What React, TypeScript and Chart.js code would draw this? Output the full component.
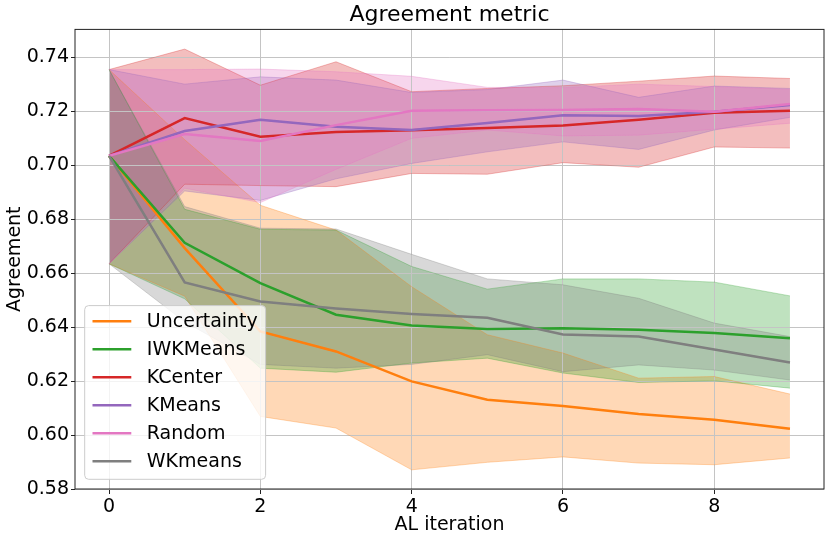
import { useEffect, useRef } from 'react';
import Chart from 'chart.js/auto';

const iterations = [0, 1, 2, 3, 4, 5, 6, 7, 8, 9];
const methods = ['Uncertainty', 'IWKMeans', 'KCenter', 'KMeans', 'Random', 'WKmeans'];
const colors = ['#ff7f0e', '#2ca02c', '#d62728', '#9467bd', '#e377c2', '#7f7f7f'];

// mean agreement per AL iteration
const uncertaintyMean = [0.7035, 0.6693, 0.6384, 0.6310, 0.6199, 0.6131, 0.6108, 0.6078, 0.6057, 0.6023];
const iwkmeansMean = [0.7035, 0.6713, 0.6563, 0.6446, 0.6406, 0.6393, 0.6396, 0.6390, 0.6378, 0.6359];
const kcenterMean = [0.7035, 0.7175, 0.7106, 0.7124, 0.7130, 0.7138, 0.7148, 0.7169, 0.7195, 0.7202];
const kmeansMean = [0.7035, 0.7127, 0.7169, 0.7143, 0.7131, 0.7157, 0.7186, 0.7183, 0.7199, 0.7224];
const randomMean = [0.7035, 0.7116, 0.7090, 0.7149, 0.7202, 0.7204, 0.7205, 0.7209, 0.7199, 0.7227];
const wkmeansMean = [0.7035, 0.6566, 0.6495, 0.6469, 0.6449, 0.6435, 0.6373, 0.6365, 0.6317, 0.6269];

// upper / lower edge of the shaded band
const uncertaintyHigh = [0.7355, 0.7095, 0.6852, 0.6760, 0.6550, 0.6372, 0.6304, 0.6211, 0.6217, 0.6152];
const uncertaintyLow = [0.6635, 0.6515, 0.6069, 0.6026, 0.5871, 0.5899, 0.5919, 0.5896, 0.5890, 0.5915];
const iwkmeansHigh = [0.7355, 0.6837, 0.6763, 0.6760, 0.6625, 0.6541, 0.6579, 0.6579, 0.6567, 0.6516];
const iwkmeansLow = [0.6635, 0.6505, 0.6248, 0.6233, 0.6267, 0.6285, 0.6230, 0.6195, 0.6201, 0.6174];
const kcenterHigh = [0.7355, 0.7431, 0.7297, 0.7384, 0.7273, 0.7285, 0.7295, 0.7312, 0.7331, 0.7322];
const kcenterLow = [0.6635, 0.6930, 0.6925, 0.6921, 0.6970, 0.6967, 0.7010, 0.6993, 0.7068, 0.7064];
const kmeansHigh = [0.7355, 0.7301, 0.7328, 0.7316, 0.7270, 0.7281, 0.7316, 0.7252, 0.7294, 0.7285];
const kmeansLow = [0.6635, 0.6905, 0.6870, 0.6950, 0.7007, 0.7050, 0.7087, 0.7059, 0.7131, 0.7178];
const randomHigh = [0.7355, 0.7355, 0.7357, 0.7347, 0.7330, 0.7289, 0.7288, 0.7301, 0.7292, 0.7282];
const randomLow = [0.6635, 0.6915, 0.6862, 0.6985, 0.7100, 0.7131, 0.7109, 0.7112, 0.7134, 0.7156];
const wkmeansHigh = [0.7355, 0.6847, 0.6767, 0.6764, 0.6670, 0.6579, 0.6557, 0.6507, 0.6415, 0.6365];
const wkmeansLow = [0.6635, 0.6420, 0.6262, 0.6248, 0.6262, 0.6298, 0.6235, 0.6260, 0.6241, 0.6204];

const xTicks = [0, 2, 4, 6, 8];
const yTicks = [0.58, 0.6, 0.62, 0.64, 0.66, 0.68, 0.7, 0.72, 0.74];

const means = [uncertaintyMean, iwkmeansMean, kcenterMean, kmeansMean, randomMean, wkmeansMean];
const highs = [uncertaintyHigh, iwkmeansHigh, kcenterHigh, kmeansHigh, randomHigh, wkmeansHigh];
const lows = [uncertaintyLow, iwkmeansLow, kcenterLow, kmeansLow, randomLow, wkmeansLow];

const FONT = 'DejaVu Sans';
const TITLE = 'Agreement metric';

function rgba(hex: string, a: number) {
  const n = parseInt(hex.slice(1), 16);
  return `rgba(${(n >> 16) & 255}, ${(n >> 8) & 255}, ${n & 255}, ${a})`;
}

const toPoints = (ys: number[]) => iterations.map((x, i) => ({ x, y: ys[i] }));

// redraw grid on top of the shaded bands, below the lines (like matplotlib)
const gridOverFill = {
  id: 'gridOverFill',
  beforeDatasetsDraw(chart: any) {
    chart.scales.x.drawGrid(chart.chartArea);
    chart.scales.y.drawGrid(chart.chartArea);
  },
};

// axes frame, title centred over the axes, legend in the lower left corner
const frameAndLegend = {
  id: 'frameAndLegend',
  afterDraw(chart: any) {
    const { ctx, chartArea } = chart;
    ctx.save();
    ctx.strokeStyle = '#222';
    ctx.lineWidth = 1;
    ctx.strokeRect(chartArea.left, chartArea.top, chartArea.right - chartArea.left, chartArea.bottom - chartArea.top);

    ctx.fillStyle = '#000';
    ctx.font = `22px "${FONT}"`;
    ctx.textAlign = 'center';
    ctx.textBaseline = 'middle';
    ctx.fillText(TITLE, (chartArea.left + chartArea.right) / 2, 15.5);

    ctx.font = `19px "${FONT}"`;
    const maxText = Math.max(...methods.map((m) => ctx.measureText(m).width));
    const left = chartArea.left + 9.7;
    const bottom = chartArea.bottom - 9.7;
    const width = 7.8 + 38.8 + 15.5 + maxText + 7.8;
    const height = 173.7;
    const top = bottom - height;
    ctx.beginPath();
    ctx.roundRect(left, top, width, height, 4);
    ctx.fillStyle = 'rgba(255,255,255,0.8)';
    ctx.fill();
    ctx.strokeStyle = '#cccccc';
    ctx.stroke();

    methods.forEach((m, i) => {
      const cy = top + 15.7 + i * 28;
      const hx = left + 7.8;
      ctx.beginPath();
      ctx.moveTo(hx, cy);
      ctx.lineTo(hx + 38.8, cy);
      ctx.strokeStyle = colors[i];
      ctx.lineWidth = 2.5;
      ctx.stroke();
      ctx.fillStyle = '#000';
      ctx.textBaseline = 'middle';
      ctx.textAlign = 'left';
      ctx.fillText(m, hx + 38.8 + 15.5, cy + 1);
    });
    ctx.restore();
  },
};

export default function App() {
  const chartRef = useRef<HTMLCanvasElement | null>(null);
  const chartInstance = useRef<Chart | null>(null);

  useEffect(() => {
    document.body.style.margin = '0';
    if (!chartRef.current) return;
    if (chartInstance.current) chartInstance.current.destroy();
    const ctx = chartRef.current.getContext('2d');
    if (!ctx) return;

    const bandSets = methods.flatMap((name, k) => [
      {
        label: name + ' high',
        data: toPoints(highs[k]),
        fill: '+1',
        backgroundColor: rgba(colors[k], 0.3),
        borderColor: rgba(colors[k], 0.3),
        borderWidth: 1,
        pointRadius: 0,
        order: 100 - k,
      },
      {
        label: name + ' low',
        data: toPoints(lows[k]),
        fill: false,
        borderColor: rgba(colors[k], 0.3),
        borderWidth: 1,
        pointRadius: 0,
        order: 100 - k,
      },
    ]);
    const lineSets = methods.map((name, k) => ({
      label: name,
      data: toPoints(means[k]),
      fill: false,
      borderColor: colors[k],
      borderWidth: 2.5,
      pointRadius: 0,
      order: 50 - k,
    }));

    const tickFont = { family: FONT, size: 19 };

    chartInstance.current = new Chart(ctx, {
      type: 'line',
      data: { datasets: [...bandSets, ...lineSets] as any },
      options: {
        responsive: false,
        animation: false,
        layout: { padding: { left: 0, right: 6, top: 29.4, bottom: 0 } },
        scales: {
          x: {
            type: 'linear',
            min: -0.45,
            max: 9.45,
            afterBuildTicks: (scale: any) => {
              scale.ticks = xTicks.map((v) => ({ value: v }));
            },
            afterFit: (scale: any) => {
              scale.height = 54;
            },
            ticks: { font: tickFont, color: '#000', padding: 2, maxRotation: 0, callback: (v: any) => String(v) },
            grid: { color: '#c4c4c4', lineWidth: 1, tickColor: '#222', tickLength: 5 },
            border: { display: false },
            title: { display: true, text: 'AL iteration', color: '#000', font: { family: FONT, size: 19 }, padding: { top: 0, bottom: 7 } },
          },
          y: {
            type: 'linear',
            min: 0.58,
            max: 0.7504,
            afterBuildTicks: (scale: any) => {
              scale.ticks = yTicks.map((v) => ({ value: v }));
            },
            afterFit: (scale: any) => {
              scale.width = 75;
            },
            ticks: { font: tickFont, color: '#000', padding: 2, callback: (v: any) => Number(v).toFixed(2) },
            grid: { color: '#c4c4c4', lineWidth: 1, tickColor: '#222', tickLength: 4 },
            border: { display: false },
            title: { display: true, text: 'Agreement', color: '#000', font: { family: FONT, size: 19 }, padding: { top: 4, bottom: 0 } },
          },
        },
        plugins: {
          legend: { display: false },
          tooltip: { enabled: false },
          filler: { drawTime: 'beforeDatasetsDraw' },
          title: { display: false },
        },
      } as any,
      plugins: [gridOverFill, frameAndLegend],
    });

    return () => {
      if (chartInstance.current) {
        chartInstance.current.destroy();
        chartInstance.current = null;
      }
    };
  }, []);

  return (
    <div style={{ width: 830, height: 543 }}>
      <canvas ref={chartRef} width={830} height={543} style={{ display: 'block' }}></canvas>
    </div>
  );
}
